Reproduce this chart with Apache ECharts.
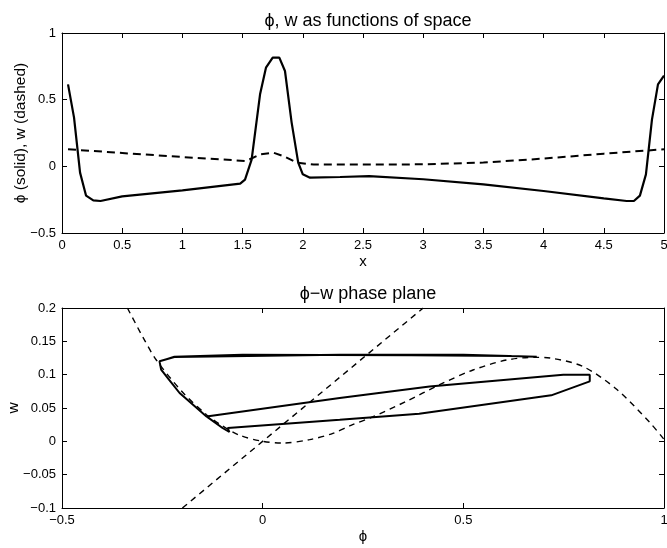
<!DOCTYPE html>
<html>
<head>
<meta charset="utf-8">
<title>phi, w</title>
<script src="https://cdn.jsdelivr.net/npm/echarts@6/dist/echarts.min.js"></script>
<style>
html, body {
	margin: 0;
	padding: 0;
	background: #fff;
}
#chart {
	width: 667px;
	height: 548px;
}
</style>
</head>
<body>
<div id="chart"></div>
<script type="text/javascript">
    // top panel: phi(x) solid, w(x) dashed
    var xPhi = [0.05, 0.1, 0.15, 0.2, 0.26, 0.32, 0.5, 1.0, 1.48, 1.52, 1.575, 1.645, 1.694, 1.75, 1.805, 1.852, 1.907, 1.962, 2.0, 2.06, 2.31, 2.55, 3.0, 3.5, 4.0, 4.5, 4.69, 4.75, 4.8, 4.85, 4.9, 4.95, 5.0];
    var phiVals = [0.615, 0.365, -0.047, -0.22, -0.255, -0.26, -0.225, -0.18, -0.13, -0.1, 0.05, 0.54, 0.74, 0.815, 0.815, 0.715, 0.33, 0.028, -0.06, -0.085, -0.08, -0.073, -0.097, -0.135, -0.185, -0.24, -0.26, -0.26, -0.22, -0.06, 0.35, 0.615, 0.68];

    var xW = [0.05, 0.5, 1.0, 1.53, 1.645, 1.755, 1.838, 1.95, 2.09, 2.5, 3.0, 3.5, 4.0, 4.5, 5.0];
    var wVals = [0.128, 0.1, 0.07, 0.04, 0.09, 0.103, 0.077, 0.028, 0.013, 0.013, 0.015, 0.028, 0.058, 0.095, 0.128];

    // bottom panel: trajectory in the phase plane
    var trajPhi = [0.62, 0.37, -0.05, -0.22, -0.257, -0.253, -0.23, -0.207, -0.14, 0.192, 0.416, 0.749, 0.815, 0.815, 0.719, 0.39, 0.192, -0.087, -0.083, -0.1, -0.14, -0.207, -0.23, -0.253, -0.257, -0.22, 0.192, 0.5, 0.683];
    var trajW = [0.128, 0.129, 0.13, 0.127, 0.12, 0.1075, 0.09, 0.0725, 0.0374, 0.065, 0.0824, 0.1, 0.1, 0.09, 0.069, 0.0415, 0.0325, 0.02, 0.014, 0.02, 0.0374, 0.0725, 0.09, 0.1075, 0.12, 0.1265, 0.13, 0.13, 0.127];

    // nullclines (dashed)
    var cubicPhi = [-0.337, -0.3, -0.265, -0.2, -0.14, -0.1, -0.057, 0, 0.05, 0.117, 0.175, 0.22, 0.275, 0.358, 0.441, 0.524, 0.608, 0.68, 0.716, 0.799, 0.882, 0.965, 1.0];
    var cubicW = [0.2, 0.158, 0.122, 0.074, 0.04, 0.023, 0.009, 0, -0.0025, 0.0025, 0.012, 0.024, 0.037, 0.06, 0.085, 0.107, 0.122, 0.126, 0.125, 0.112, 0.078, 0.028, 0.003];

    var linePhi = [-0.2, 0.4];
    var lineW = [-0.1, 0.2];

    function pairs(a, b) {
        var out = [];
        for (var i = 0; i < a.length; i++) {
            out.push([a[i], b[i]]);
        }
        return out;
    }

    function fmt(v) {
        return String(v).replace('-', '\u2212');
    }

    var FONT = 'Liberation Sans';

    function xAx(grid, min, max, step, pos, name) {
        return {
            type: 'value', gridIndex: grid, position: pos,
            min: min, max: max, interval: step,
            name: name || '', nameLocation: 'middle', nameGap: 21, nameMoveOverlap: false,
            nameTextStyle: {color: '#000', fontSize: 15, fontFamily: FONT},
            axisLine: {show: true, onZero: false, lineStyle: {color: '#000', width: 1}},
            axisTick: {show: true, inside: true, length: 5, lineStyle: {color: '#000'}},
            axisLabel: {show: pos === 'bottom', color: '#000', fontSize: 13, fontFamily: FONT, margin: 6, formatter: fmt},
            splitLine: {show: false}
        };
    }

    function yAx(grid, min, max, step, pos, name, gap) {
        return {
            type: 'value', gridIndex: grid, position: pos,
            min: min, max: max, interval: step,
            name: name || '', nameLocation: 'middle', nameGap: gap || 40, nameRotate: 90,
            nameMoveOverlap: false,
            nameTextStyle: {color: '#000', fontSize: 15.5, fontFamily: FONT},
            axisLine: {show: true, onZero: false, lineStyle: {color: '#000', width: 1}},
            axisTick: {show: true, inside: true, length: 5, lineStyle: {color: '#000'}},
            axisLabel: {show: pos === 'left', color: '#000', fontSize: 13, fontFamily: FONT, margin: 6, formatter: fmt},
            splitLine: {show: false}
        };
    }

    var myChart = echarts.init(document.getElementById('chart'));

    var option = {
        backgroundColor: '#fff',
        animation: false,
        title: [{
            text: '\u03d5, w as functions of space',
            left: 363, top: 7, textAlign: 'center',
            textStyle: {color: '#000', fontSize: 18, fontWeight: 'normal', fontFamily: FONT}
        }, {
            text: '\u03d5\u2212w phase plane',
            left: 363, top: 280, textAlign: 'center',
            textStyle: {color: '#000', fontSize: 18, fontWeight: 'normal', fontFamily: FONT}
        }],
        grid: [
            {left: 62, top: 33, width: 602, height: 200, outerBoundsMode: 'none'},
            {left: 62, top: 308, width: 602, height: 200, outerBoundsMode: 'none'}
        ],
        xAxis: [
            xAx(0, 0, 5, 0.5, 'bottom', 'x'),
            xAx(0, 0, 5, 0.5, 'top'),
            xAx(1, -0.5, 1, 0.5, 'bottom', '\u03d5'),
            xAx(1, -0.5, 1, 0.5, 'top')
        ],
        yAxis: [
            yAx(0, -0.5, 1, 0.5, 'left', '\u03d5 (solid), w (dashed)', 33),
            yAx(0, -0.5, 1, 0.5, 'right'),
            yAx(1, -0.1, 0.2, 0.05, 'left', 'w', 40),
            yAx(1, -0.1, 0.2, 0.05, 'right')
        ],
        series: [{
            type: 'line', xAxisIndex: 0, yAxisIndex: 0,
            data: pairs(xPhi, phiVals), showSymbol: false,
            lineStyle: {color: '#000', width: 2.2}
        }, {
            type: 'line', xAxisIndex: 0, yAxisIndex: 0,
            data: pairs(xW, wVals), showSymbol: false,
            lineStyle: {color: '#000', width: 2, type: [8, 5]}
        }, {
            type: 'line', xAxisIndex: 2, yAxisIndex: 2,
            data: pairs(trajPhi, trajW), showSymbol: false,
            lineStyle: {color: '#000', width: 2}
        }, {
            type: 'line', xAxisIndex: 2, yAxisIndex: 2,
            data: pairs(cubicPhi, cubicW), showSymbol: false, smooth: 0.3,
            lineStyle: {color: '#000', width: 1.4, type: [6, 5]}
        }, {
            type: 'line', xAxisIndex: 2, yAxisIndex: 2,
            data: pairs(linePhi, lineW), showSymbol: false,
            lineStyle: {color: '#000', width: 1.4, type: [6, 5]}
        }]
    };

    myChart.setOption(option);
</script>
</body>
</html>
